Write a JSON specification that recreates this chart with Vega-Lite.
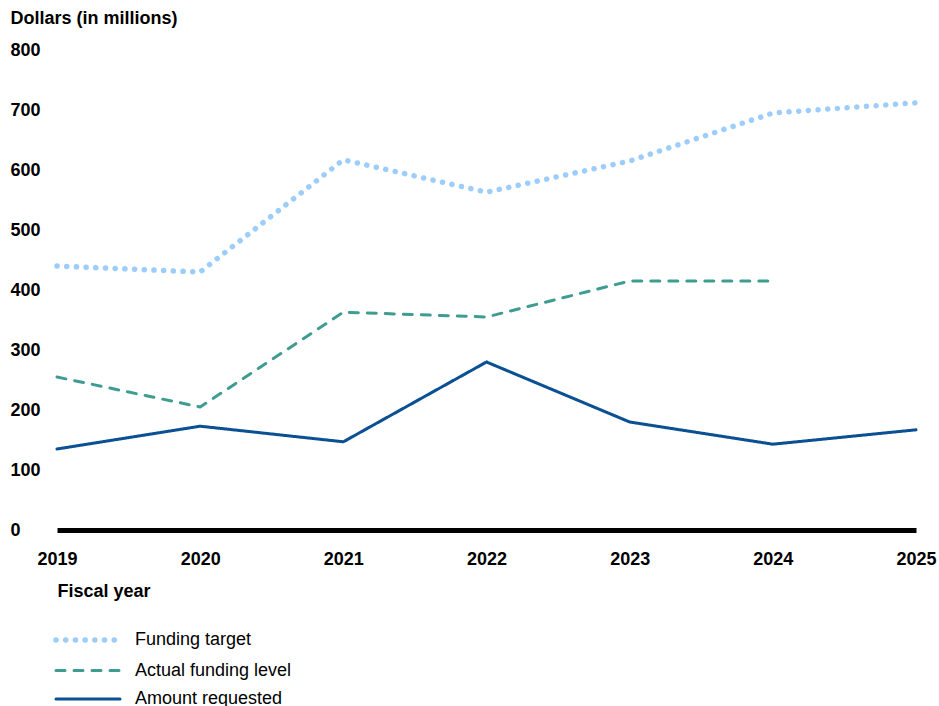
{
  "$schema": "https://vega.github.io/schema/vega-lite/v6.json",
  "width": 859,
  "height": 480,
  "autosize": {"type": "none"},
  "padding": {"left": 57, "top": 50, "right": 23, "bottom": 176},
  "background": "white",
  "config": {
    "view": {"stroke": null},
    "font": "Liberation Sans"
  },
  "data": {
    "values": [
      {"year": 2019, "series": "Funding target", "amount": 440},
      {"year": 2020, "series": "Funding target", "amount": 430},
      {"year": 2021, "series": "Funding target", "amount": 617},
      {"year": 2022, "series": "Funding target", "amount": 563},
      {"year": 2023, "series": "Funding target", "amount": 615},
      {"year": 2024, "series": "Funding target", "amount": 695},
      {"year": 2025, "series": "Funding target", "amount": 712},
      {"year": 2019, "series": "Actual funding level", "amount": 255},
      {"year": 2020, "series": "Actual funding level", "amount": 205},
      {"year": 2021, "series": "Actual funding level", "amount": 363},
      {"year": 2022, "series": "Actual funding level", "amount": 355},
      {"year": 2023, "series": "Actual funding level", "amount": 415},
      {"year": 2024, "series": "Actual funding level", "amount": 415},
      {"year": 2019, "series": "Amount requested", "amount": 135},
      {"year": 2020, "series": "Amount requested", "amount": 173},
      {"year": 2021, "series": "Amount requested", "amount": 147},
      {"year": 2022, "series": "Amount requested", "amount": 280},
      {"year": 2023, "series": "Amount requested", "amount": 180},
      {"year": 2024, "series": "Amount requested", "amount": 143},
      {"year": 2025, "series": "Amount requested", "amount": 167}
    ]
  },
  "mark": {"type": "line", "strokeCap": "round", "strokeJoin": "round"},
  "encoding": {
    "x": {
      "field": "year",
      "type": "quantitative",
      "scale": {"domain": [2019, 2025], "nice": false, "zero": false},
      "axis": {
        "values": [2019, 2020, 2021, 2022, 2023, 2024, 2025],
        "format": "d",
        "grid": false,
        "ticks": false,
        "domainColor": "black",
        "domainWidth": 5,
        "labelFont": "Liberation Sans",
        "labelFontSize": 18,
        "labelFontWeight": "bold",
        "labelColor": "black",
        "labelPadding": 20,
        "labelFlush": false,
        "title": "Fiscal year",
        "titleFont": "Liberation Sans",
        "titleFontSize": 18,
        "titleFontWeight": "bold",
        "titleColor": "black",
        "titleAlign": "left",
        "titleBaseline": "middle",
        "titleX": 0,
        "titleY": 61
      }
    },
    "y": {
      "field": "amount",
      "type": "quantitative",
      "scale": {"domain": [0, 800], "nice": false},
      "axis": {
        "values": [0, 100, 200, 300, 400, 500, 600, 700, 800],
        "grid": false,
        "ticks": false,
        "domain": false,
        "labelFont": "Liberation Sans",
        "labelFontSize": 18,
        "labelFontWeight": "bold",
        "labelColor": "black",
        "labelAlign": "left",
        "labelPadding": 47,
        "title": "Dollars (in millions)",
        "titleFont": "Liberation Sans",
        "titleFontSize": 18,
        "titleFontWeight": "bold",
        "titleColor": "black",
        "titleAngle": 0,
        "titleAlign": "left",
        "titleBaseline": "middle",
        "titleX": -47,
        "titleY": -32
      }
    },
    "color": {
      "field": "series",
      "type": "nominal",
      "scale": {
        "domain": ["Funding target", "Actual funding level", "Amount requested"],
        "range": ["#9dcdfb", "#3f9c91", "#0a5093"]
      },
      "legend": {
        "title": null,
        "orient": "none",
        "legendX": 22,
        "legendY": 581,
        "padding": 0,
        "symbolType": "M-4,0H4",
        "symbolSize": 256,
        "symbolStrokeWidth": 3,
        "labelFont": "Liberation Sans",
        "labelFontSize": 18,
        "labelColor": "black",
        "labelOffset": 38,
        "rowPadding": 10.5,
        "encoding": {
          "symbols": {
            "strokeCap": {"value": "round"},
            "strokeWidth": {"value": {"expr": "datum.label === 'Funding target' ? 5.5 : 3"}}
          }
        }
      }
    },
    "strokeDash": {
      "field": "series",
      "type": "nominal",
      "scale": {
        "domain": ["Funding target", "Actual funding level", "Amount requested"],
        "range": [[0.1, 9.6], [9, 9], [1, 0]]
      }
    },
    "strokeWidth": {
      "condition": {"test": "datum.series === 'Funding target'", "value": 5.5},
      "value": 3
    },
    "order": {"field": "year", "type": "quantitative"}
  }
}
